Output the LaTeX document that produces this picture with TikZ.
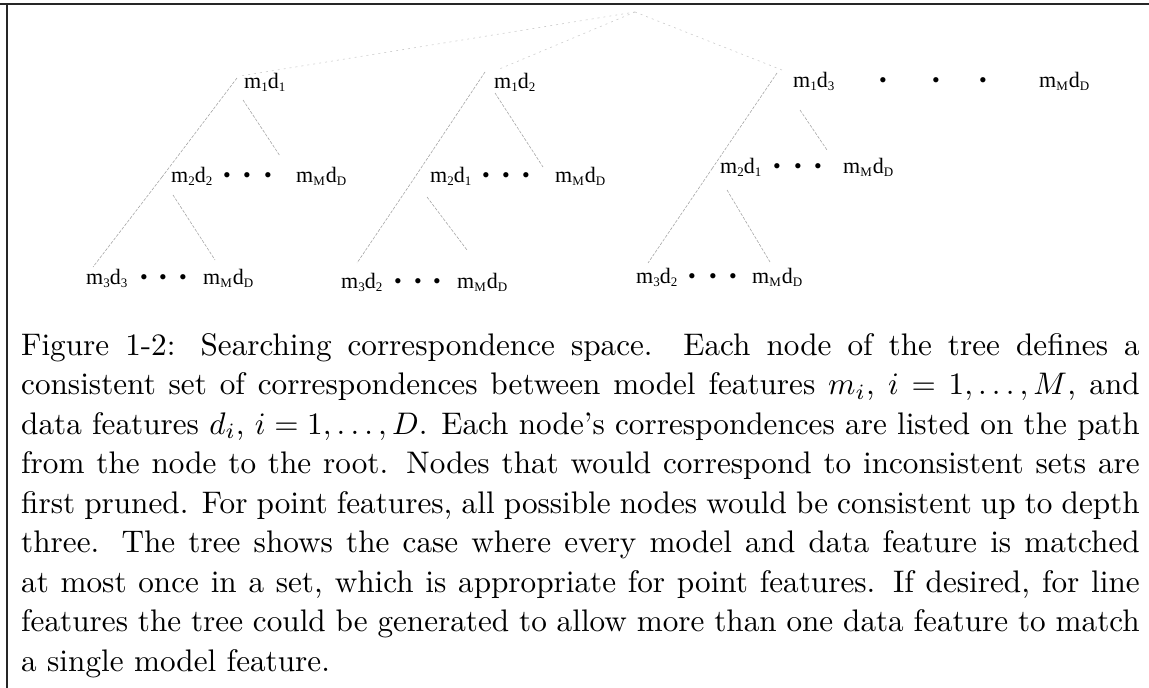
\documentclass[tikz,border=0pt]{standalone}
\usepackage{fontspec}
\newfontfamily\labfont{Liberation Serif}
\newcommand{\lsb}[1]{\raisebox{-3.5pt}{\fontsize{13}{13}\selectfont #1}}
\newcommand{\capl}[2][s]{\scalebox{3.12}{\fontsize{10}{12}\selectfont\makebox[358.5pt][#1]{#2}}}
\tikzset{
  lbl/.style={anchor=base west, inner sep=0pt, font=\labfont\fontsize{22}{26}\selectfont},
  bul/.style={anchor=base, inner sep=0pt, font=\labfont\fontsize{22}{26}\selectfont},
  edge/.style={draw=black!35, line width=0.6pt, dash pattern=on 3pt off 1.5pt},
  rootedge/.style={draw=black!20, line width=0.6pt, dash pattern=on 2pt off 4pt},
  capline/.style={anchor=base west, inner sep=0pt},
  frameline/.style={line width=2pt, draw=black!85}
}
\begin{document}
\begin{tikzpicture}[x=1pt,y=-1pt]
\useasboundingbox (0,0) rectangle (1149,688);
% frame
\coordinate (fTL) at (6.5,3.5);
\coordinate (fTR) at (1149,3.5);
\coordinate (fBL) at (6.5,688);
\coordinate (fL0) at (0,3.5);
\draw[frameline] (fL0) -- (fTR);
\draw[frameline] (fTL) -- (fBL);
% root
\coordinate (root) at (635,12);
% tree 1
\node[lbl] (t1a) at (244,88) {m\lsb{1}d\lsb{1}};
\node[lbl] (t1b) at (171,182) {m\lsb{2}d\lsb{2}};
\node[bul] (t1b1) at (227,182) {•};
\node[bul] (t1b2) at (247,182) {•};
\node[bul] (t1b3) at (268,182) {•};
\node[lbl] (t1c) at (296,182) {m\lsb{M}\kern1pt d\lsb{D}};
\node[lbl] (t1e) at (86,284) {m\lsb{3}d\lsb{3}};
\node[bul] (t1e1) at (144,284) {•};
\node[bul] (t1e2) at (163,284) {•};
\node[bul] (t1e3) at (183,284) {•};
\node[lbl] (t1f) at (203,284) {m\lsb{M}\kern1pt d\lsb{D}};
% tree 2
\node[lbl] (t2a) at (494,88) {m\lsb{1}d\lsb{2}};
\node[lbl] (t2b) at (430,182) {m\lsb{2}d\lsb{1}};
\node[bul] (t2b1) at (486,182) {•};
\node[bul] (t2b2) at (506,182) {•};
\node[bul] (t2b3) at (526,182) {•};
\node[lbl] (t2c) at (555,182) {m\lsb{M}\kern1pt d\lsb{D}};
\node[lbl] (t2e) at (341,288) {m\lsb{3}d\lsb{2}};
\node[bul] (t2e1) at (398,288) {•};
\node[bul] (t2e2) at (418,288) {•};
\node[bul] (t2e3) at (437,288) {•};
\node[lbl] (t2f) at (457,288) {m\lsb{M}\kern1pt d\lsb{D}};
% tree 3
\node[lbl] (t3a) at (793,87) {m\lsb{1}d\lsb{3}};
\node[bul] (t3a1) at (883,87) {•};
\node[bul] (t3a2) at (936,87) {•};
\node[bul] (t3a3) at (983,87) {•};
\node[lbl] (t3z) at (1039,87) {m\lsb{M}\kern1pt d\lsb{D}};
\node[lbl] (t3b) at (720,173) {m\lsb{2}d\lsb{1}};
\node[bul] (t3b1) at (777,173) {•};
\node[bul] (t3b2) at (798,173) {•};
\node[bul] (t3b3) at (818,173) {•};
\node[lbl] (t3c) at (843,173) {m\lsb{M}\kern1pt d\lsb{D}};
\node[lbl] (t3e) at (636,283) {m\lsb{3}d\lsb{2}};
\node[bul] (t3e1) at (692,283) {•};
\node[bul] (t3e2) at (713,283) {•};
\node[bul] (t3e3) at (733,283) {•};
\node[lbl] (t3f) at (752,283) {m\lsb{M}\kern1pt d\lsb{D}};
% root edges
\draw[rootedge] (root) -- ([shift={(-4,-12)}]t1a.base west);
\draw[rootedge] (root) -- ([shift={(3,-18)}]t2a.base west);
\draw[rootedge] (root) -- ([shift={(-11,-17)}]t3a.base west);
% tree 1 edges
\draw[edge] ([shift={(-7,-10)}]t1a.base west) -- ([shift={(-9,-5)}]t1b.base west);
\draw[edge] ([shift={(-9,-5)}]t1b.base west) -- ([shift={(7,-17)}]t1e.base west);
\draw[edge] ([shift={(-1,12)}]t1a.base west) -- ([shift={(-16,-26)}]t1c.base west);
\draw[edge] ([shift={(2,13)}]t1b.base west) -- ([shift={(12,-24)}]t1f.base west);
% tree 2 edges
\draw[edge] ([shift={(-9,-16)}]t2a.base west) -- ([shift={(-15,-5)}]t2b.base west);
\draw[edge] ([shift={(-15,-5)}]t2b.base west) -- ([shift={(16,-25)}]t2e.base west);
\draw[edge] ([shift={(1,5)}]t2a.base west) -- ([shift={(-12,-15)}]t2c.base west);
\draw[edge] ([shift={(-3,15)}]t2b.base west) -- ([shift={(10,-38)}]t2f.base west);
% tree 3 edges
\draw[edge] ([shift={(-16,-14)}]t3a.base west) -- ([shift={(-7.5,-5)}]t3b.base west);
\draw[edge] ([shift={(-7.5,-5)}]t3b.base west) -- ([shift={(12,-20)}]t3e.base west);
\draw[edge] ([shift={(7,23)}]t3a.base west) -- ([shift={(-16,-23)}]t3c.base west);
\draw[edge] ([shift={(7,17)}]t3b.base west) -- ([shift={(18,-21)}]t3f.base west);
% caption
\node[capline] (c1) at (21,355) {\capl{Figure 1-2: Searching correspondence space.  Each node of the tree defines a}};
\node[capline] (c2) at (21,394.5) {\capl{consistent set of correspondences between model features $m_i$, $i = 1,\ldots,M$, and}};
\node[capline] (c3) at (21,434) {\capl{data features $d_i$, $i = 1,\ldots,D$. Each node's correspondences are listed on the path}};
\node[capline] (c4) at (21,473.5) {\capl{from the node to the root. Nodes that would correspond to inconsistent sets are}};
\node[capline] (c5) at (21,513) {\capl{first pruned. For point features, all possible nodes would be consistent up to depth}};
\node[capline] (c6) at (21,552.5) {\capl{three. The tree shows the case where every model and data feature is matched}};
\node[capline] (c7) at (21,592) {\capl{at most once in a set, which is appropriate for point features. If desired, for line}};
\node[capline] (c8) at (21,631.5) {\capl{features the tree could be generated to allow more than one data feature to match}};
\node[capline] (c9) at (21,671) {\capl[l]{a single model feature.}};
\end{tikzpicture}
\end{document}
